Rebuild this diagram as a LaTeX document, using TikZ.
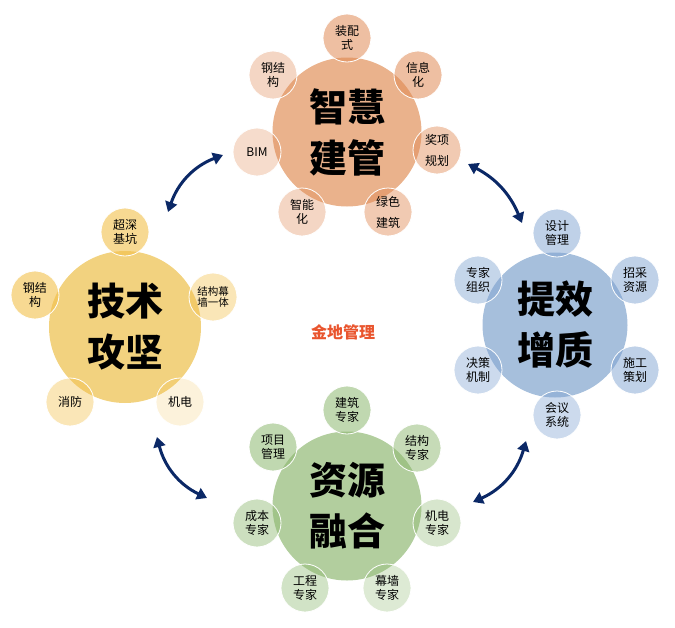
\documentclass[tikz,border=0pt]{standalone}
\usepackage{fontspec}
\setmainfont{Noto Sans CJK SC}
\usetikzlibrary{arrows.meta}

\definecolor{zhcol}{HTML}{EAB28C}
\definecolor{zhsat}{HTML}{E08A55}
\definecolor{txcol}{HTML}{A6BFDC}
\definecolor{txsat}{HTML}{7FA3D1}
\definecolor{jscol}{HTML}{F2D27F}
\definecolor{jssat}{HTML}{F2C04A}
\definecolor{zycol}{HTML}{B2CE9E}
\definecolor{zysat}{HTML}{8DB870}
\definecolor{navy}{HTML}{0B2866}
\definecolor{jdred}{HTML}{E9552E}

\begin{document}
\begin{tikzpicture}[
  x=1pt, y=1pt,
  hub/.style={circle, minimum size=149pt, inner sep=0pt, align=center,
    font=\bfseries\fontsize{38}{51}\selectfont},
  sat/.style={circle, draw=white, line width=0.8pt, minimum size=48pt,
    inner sep=0pt, align=center, text opacity=1,
    font=\fontsize{12}{14}\selectfont},
  wide/.style={font=\fontsize{12}{21}\selectfont},
  link/.style={draw=navy, line width=3pt,
    {Triangle[length=10pt,width=12pt]}-{Triangle[length=10pt,width=12pt]}}
]
\useasboundingbox (0,0) rectangle (675,-627);

% hubs
\node[hub, fill=zhcol] (zh) at (347,-132) {智慧\\建管};
\node[hub, fill=txcol, minimum size=145pt] (tx) at (555,-325) {提效\\增质};
\node[hub, fill=jscol, minimum size=152pt] (js) at (125,-327) {技术\\攻坚};
\node[hub, fill=zycol] (zy) at (347,-506) {资源\\融合};

% 智慧建管
\node[sat, fill=zhsat, fill opacity=0.55] (zh1) at (347,-38) {装配\\式};
\node[sat, fill=zhsat, fill opacity=0.55] (zh2) at (418,-75) {信息\\化};
\node[sat, wide, fill=zhsat, fill opacity=0.45] (zh3) at (437,-150) {奖项\\规划};
\node[sat, wide, fill=zhsat, fill opacity=0.45] (zh4) at (388,-212) {绿色\\建筑};
\node[sat, fill=zhsat, fill opacity=0.35] (zh5) at (302,-212) {智能\\化};
\node[sat, fill=zhsat, fill opacity=0.3] (zh6) at (257,-152) {BIM};
\node[sat, fill=zhsat, fill opacity=0.35] (zh7) at (273,-75) {钢结\\构};

% 提效增质
\node[sat, fill=txsat, fill opacity=0.5] (tx1) at (557,-233) {设计\\管理};
\node[sat, fill=txsat, fill opacity=0.5] (tx2) at (635,-280) {招采\\资源};
\node[sat, fill=txsat, fill opacity=0.5] (tx3) at (635,-370) {施工\\策划};
\node[sat, fill=txsat, fill opacity=0.4] (tx4) at (557,-415) {会议\\系统};
\node[sat, fill=txsat, fill opacity=0.4] (tx5) at (478,-370) {决策\\机制};
\node[sat, fill=txsat, fill opacity=0.45] (tx6) at (478,-280) {专家\\组织};

% 技术攻坚
\node[sat, fill=jssat, fill opacity=0.6] (js1) at (125,-232) {超深\\基坑};
\node[sat, fill=jssat, fill opacity=0.4, font=\fontsize{10.5}{11}\selectfont] (js2) at (213,-297) {结构幕\\墙一体};
\node[sat, fill=jssat, fill opacity=0.2] (js3) at (180,-402) {机电};
\node[sat, fill=jssat, fill opacity=0.4] (js4) at (70,-402) {消防};
\node[sat, fill=jssat, fill opacity=0.6] (js5) at (35,-295) {钢结\\构};

% 资源融合
\node[sat, fill=zysat, fill opacity=0.55] (zy1) at (347,-410) {建筑\\专家};
\node[sat, fill=zysat, fill opacity=0.5] (zy2) at (417,-448) {结构\\专家};
\node[sat, fill=zysat, fill opacity=0.35] (zy3) at (437,-523) {机电\\专家};
\node[sat, fill=zysat, fill opacity=0.3] (zy4) at (387,-588) {幕墙\\专家};
\node[sat, fill=zysat, fill opacity=0.4] (zy5) at (305,-588) {工程\\专家};
\node[sat, fill=zysat, fill opacity=0.45] (zy6) at (257,-523) {成本\\专家};
\node[sat, fill=zysat, fill opacity=0.55] (zy7) at (273,-447) {项目\\管理};

\node[text=jdred, font=\bfseries\fontsize{16}{18}\selectfont] (core) at (343,-332) {金地管理};

% arrows between hubs
\coordinate (a1) at (223,-155);
\coordinate (b1) at (168,-212);
\coordinate (a2) at (468,-164);
\coordinate (b2) at (522,-223);
\coordinate (a3) at (526,-441);
\coordinate (b3) at (473,-502);
\coordinate (a4) at (157,-437);
\coordinate (b4) at (207,-498);
\draw[link] (a1) to[bend right=25] (b1);
\draw[link] (a2) to[bend left=20] (b2);
\draw[link] (a3) to[bend left=25] (b3);
\draw[link] (a4) to[bend right=25] (b4);
\end{tikzpicture}
\end{document}
